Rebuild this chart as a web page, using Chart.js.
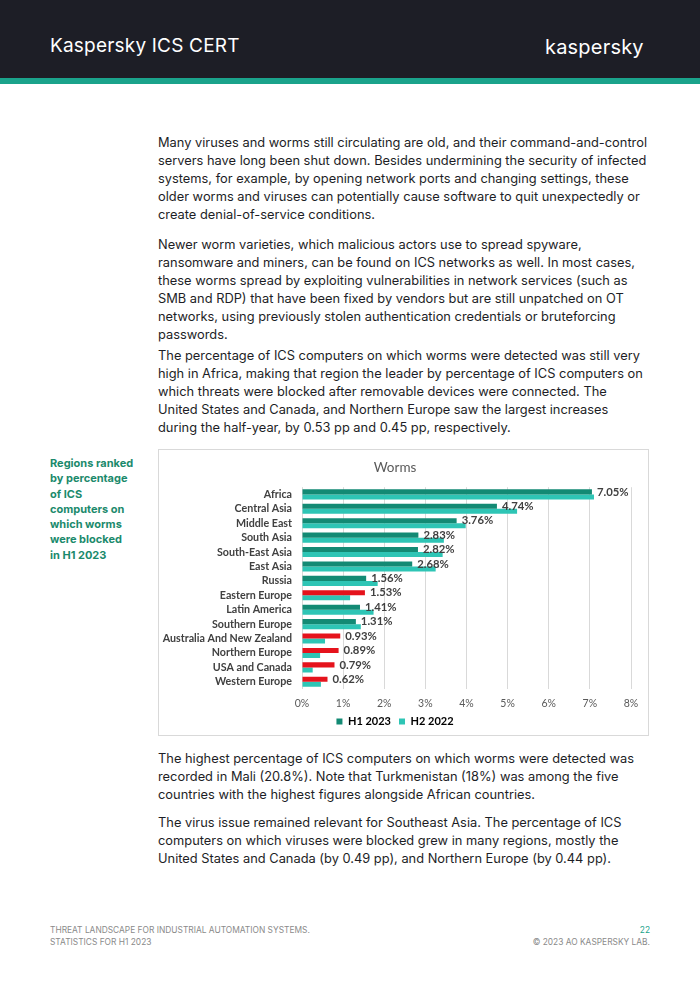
<!DOCTYPE html>
<html>
<head>
<meta charset="utf-8">
<script src="https://cdn.jsdelivr.net/npm/chart.js@4"></script>
<style>
  body { margin: 0; width: 700px; height: 990px; background: #fff; position: relative; overflow: hidden; font-family: Inter, "Noto Sans", sans-serif; }
  .head { position: absolute; left: 0; top: 0; width: 700px; height: 78px; background: #1d1e26; }
  .stripe { position: absolute; left: 0; top: 78px; width: 700px; height: 6px; background: #1aa38b; }
  .brand { position: absolute; left: 50px; top: 34px; color: #fff; font-size: 19px; line-height: 24px; letter-spacing: 0.2px; }
  .logo { position: absolute; left: 545px; top: 35px; color: #fff; font-size: 20px; line-height: 24px; letter-spacing: 0.2px; }
  .para { position: absolute; left: 158px; font-size: 12.85px; line-height: 18px; color: #1d1e26; white-space: nowrap; }
  .side { position: absolute; left: 50px; top: 456px; font-size: 11px; line-height: 15.3px; font-weight: 700; color: #1b8a6c; }
  .foot { position: absolute; top: 924px; font-size: 8.4px; line-height: 12px; color: #8a8a8a; }
  #box { position: absolute; left: 158px; top: 449px; width: 489px; height: 285px; border: 1px solid #d9d9d9; }
  #box canvas { position: absolute; left: 0; top: 0; }
</style>
</head>
<body>
<div class="head"></div>
<div class="stripe"></div>
<div class="brand">Kaspersky ICS CERT</div>
<div class="logo">kaspersky</div>

<div class="para" style="top:134px">Many viruses and worms still circulating are old, and their command-and-control<br>servers have long been shut down. Besides undermining the security of infected<br>systems, for example, by opening network ports and changing settings, these<br>older worms and viruses can potentially cause software to quit unexpectedly or<br>create denial-of-service conditions.</div>
<div class="para" style="top:236px">Newer worm varieties, which malicious actors use to spread spyware,<br>ransomware and miners, can be found on ICS networks as well. In most cases,<br>these worms spread by exploiting vulnerabilities in network services (such as<br>SMB and RDP) that have been fixed by vendors but are still unpatched on OT<br>networks, using previously stolen authentication credentials or bruteforcing<br>passwords.</div>
<div class="para" style="top:347px">The percentage of ICS computers on which worms were detected was still very<br>high in Africa, making that region the leader by percentage of ICS computers on<br>which threats were blocked after removable devices were connected. The<br>United States and Canada, and Northern Europe saw the largest increases<br>during the half-year, by 0.53 pp and 0.45 pp, respectively.</div>

<div class="side">Regions ranked<br>by percentage<br>of ICS<br>computers on<br>which worms<br>were blocked<br>in H1 2023</div>

<div id="box"><canvas id="graficoWorms" width="489" height="287"></canvas></div>

<div class="para" style="top:750px">The highest percentage of ICS computers on which worms were detected was<br>recorded in Mali (20.8%). Note that Turkmenistan (18%) was among the five<br>countries with the highest figures alongside African countries.</div>
<div class="para" style="top:814px">The virus issue remained relevant for Southeast Asia. The percentage of ICS<br>computers on which viruses were blocked grew in many regions, mostly the<br>United States and Canada (by 0.49 pp), and Northern Europe (by 0.44 pp).</div>

<div class="foot" style="left:50px">THREAT LANDSCAPE FOR INDUSTRIAL AUTOMATION SYSTEMS.<br>STATISTICS FOR H1 2023</div>
<div class="foot" style="right:50px; text-align:right"><span style="color:#1aa38b">22</span><br>© 2023 AO KASPERSKY LAB.</div>

<script>
// =========================
// WORMS BY REGION
// =========================

const regioes = ['Africa', 'Central Asia', 'Middle East', 'South Asia', 'South-East Asia', 'East Asia', 'Russia',
    'Eastern Europe', 'Latin America', 'Southern Europe', 'Australia And New Zealand', 'Northern Europe',
    'USA and Canada', 'Western Europe'];
const valoresH1 = [7.05, 4.74, 3.76, 2.83, 2.82, 2.68, 1.56, 1.53, 1.41, 1.31, 0.93, 0.89, 0.79, 0.62];
const valoresH2 = [7.10, 5.23, 3.98, 3.45, 3.42, 3.25, 1.84, 1.17, 1.74, 1.43, 0.56, 0.44, 0.26, 0.46];
const ticksX = ['0%', '1%', '2%', '3%', '4%', '5%', '6%', '7%', '8%'];

const corH1 = '#138a74';
const corH2 = '#2ec5b5';
const corAlta = '#e5131c';

// red where H1 grew over H2
const coresH1 = valoresH1.map((v, i) => v > valoresH2[i] ? corAlta : corH1);

const rotulos = {
    id: 'rotulos',
    afterDatasetsDraw(chart) {
        const ctx = chart.ctx;
        const meta = chart.getDatasetMeta(0);
        ctx.save();
        ctx.font = 'bold 11.3px Lato, sans-serif';
        ctx.fillStyle = '#404040';
        ctx.textBaseline = 'middle';
        meta.data.forEach((bar, i) => {
            ctx.fillText(valoresH1[i].toFixed(2) + '%', bar.x + 5, bar.y);
        });
        ctx.restore();
    }
};

const graficoWorms = document.getElementById('graficoWorms');

if (graficoWorms) {

    const ctx = graficoWorms.getContext('2d');

    new Chart(ctx, {
        type: 'bar',
        data: {
            labels: regioes,
            datasets: [
                {
                    label: 'H1 2023',
                    data: valoresH1,
                    backgroundColor: coresH1,
                    categoryPercentage: 0.7,
                    barPercentage: 1.0
                },
                {
                    label: 'H2 2022',
                    data: valoresH2,
                    backgroundColor: corH2,
                    categoryPercentage: 0.7,
                    barPercentage: 1.0
                }
            ]
        },
        options: {
            indexAxis: 'y',
            responsive: false,
            animation: false,
            layout: {
                padding: { top: 8, right: 17, bottom: 0, left: 0 }
            },
            scales: {
                x: {
                    min: 0,
                    max: 8,
                    afterBuildTicks: (scale) => {
                        scale.ticks = ticksX.map((t, i) => ({ value: i }));
                    },
                    afterFit: (scale) => { scale.height = 27; },
                    grid: { color: '#d9d9d9', drawTicks: false },
                    border: { display: false },
                    ticks: {
                        padding: 8,
                        color: '#595959',
                        font: { family: 'Lato', size: 10.5 },
                        callback: (value, i) => ticksX[i]
                    }
                },
                y: {
                    afterFit: (scale) => { scale.width = 143; },
                    grid: { display: false, drawTicks: false },
                    border: { display: false },
                    ticks: {
                        padding: 10,
                        autoSkip: false,
                        color: '#404040',
                        font: { family: 'Lato', size: 10.7, weight: 'bold' }
                    }
                }
            },
            plugins: {
                title: {
                    display: true,
                    text: 'Worms',
                    color: '#595959',
                    font: { family: 'Lato', size: 13.5, weight: 'normal' },
                    padding: { top: 2, bottom: 11 }
                },
                legend: {
                    position: 'bottom',
                    labels: {
                        boxWidth: 6,
                        boxHeight: 6,
                        padding: 0,
                        color: '#404040',
                        font: { family: 'Lato', size: 11, weight: 'bold' },
                        generateLabels: (chart) => chart.data.datasets.map((ds, i) => ({
                            // spaces keep the gap between the two items
                            text: i === 0 ? ds.label + '   ' : ds.label,
                            fillStyle: i === 0 ? corH1 : corH2,
                            strokeStyle: i === 0 ? corH1 : corH2,
                            lineWidth: 0,
                            datasetIndex: i
                        }))
                    }
                },
                tooltip: { enabled: false }
            }
        },
        plugins: [rotulos]
    });
}
</script>
</body>
</html>
